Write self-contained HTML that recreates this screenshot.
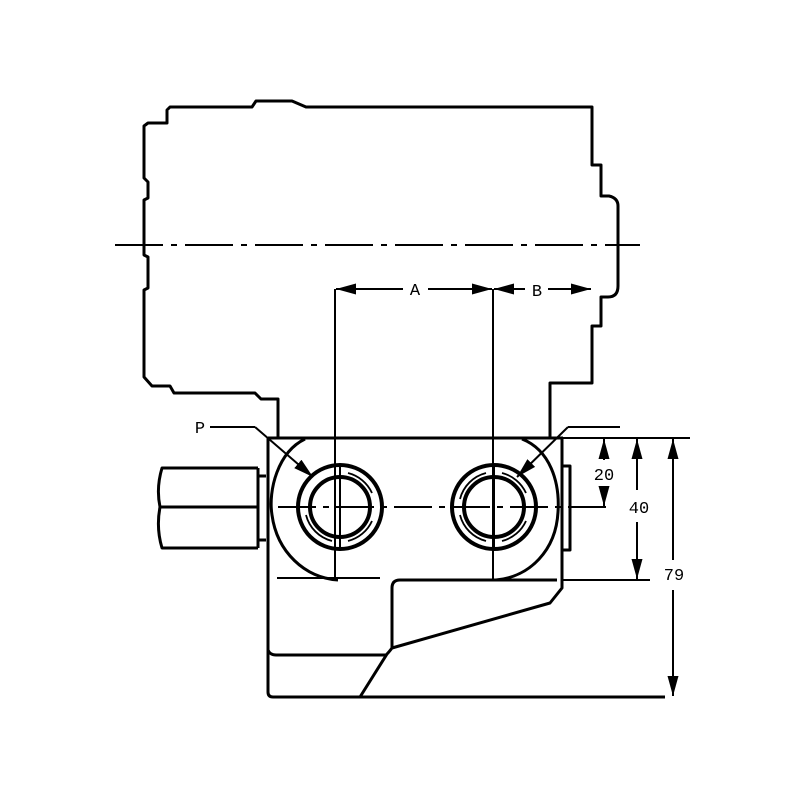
<!DOCTYPE html>
<html><head><meta charset="utf-8"><style>html,body{margin:0;background:#fff}svg{display:block}</style></head>
<body>
<svg width="800" height="800" viewBox="0 0 800 800" xmlns="http://www.w3.org/2000/svg">
<defs>
<marker id="ar2" viewBox="0 0 20 12" refX="20" refY="6" markerWidth="20" markerHeight="12" markerUnits="userSpaceOnUse" orient="auto-start-reverse"><path d="M0,0.5 L20,6 L0,11.5z" fill="#000"/></marker>
</defs>
<g fill="none" stroke="#000" stroke-width="3" stroke-linejoin="round">
<path d="M278,437 L278,399 L261,399 L255,393 L174,393 L170,386 L152,386 L144,377 L144,290 L148,288 L148,257 L144,255 L144,200 L148,198 L148,182 L144,178 L144,126 L148,123 L167,123 L167,110 L170,107 L252,107 L256,101 L292,101 L306,107 L592,107 L592,165 L601,165 L601,196 L609,196 Q618,198 618,206 L618,286 Q618,297 608,297 L601,297 L601,326 L592,326 L592,383 L550,383 L550,437"/>
<path d="M268,438 L563,438 M268,438 L268,692 Q268,697 273,697 L665,697"/>
<path d="M562,438 L562,588 L550,603 L392,648 Q389,652 387,654 L360,697"/>
<path d="M268,650 Q270,655 276,655 L387,655"/>
<path d="M557,580 L400,580 Q392,580 392,588 L392,648"/>
<path d="M305,439 C278,452 268,490 272,515 C277,552 305,578 338,580"/>
<path d="M522,439 C550,450 560,482 558,512 C556,550 530,577 496,580 L400,580"/>
<circle cx="340" cy="507" r="42" stroke-width="4"/><circle cx="340" cy="507" r="30" stroke-width="4"/>
<circle cx="494" cy="507" r="42" stroke-width="4"/><circle cx="494" cy="507" r="30" stroke-width="4"/>
<path d="M258,468 L162,468 Q156,488 160,507 Q156,528 162,548 L258,548 M160,507 L258,507"/>
<path d="M258,476 L266,476 M258,540 L266,540 M258,468 L258,548"/>
<path d="M562,466 L570,466 L570,550 L562,550"/>
</g>
<g fill="none" stroke="#000" stroke-width="1.8">
<path d="M348,473 A36,36 0 0 1 372,493 M372,521 A36,36 0 0 1 348,541 M332,541 A36,36 0 0 1 306,515"/>
<path d="M502,473 A36,36 0 0 1 526,493 M526,521 A36,36 0 0 1 502,541 M486,541 A36,36 0 0 1 460,515 M460,499 A36,36 0 0 1 486,473"/>
</g>
<g fill="none" stroke="#000" stroke-width="2">
<path d="M115,245 L640,245" stroke-dasharray="48,8,6,8"/>
<path d="M278,507 L612,507" stroke-dasharray="38,7,6,7"/>
<path d="M335,289 L335,580 M493,289 L493,580 M340,465 L340,549 M494,465 L494,549"/>
<path d="M277,578 L380,578 M563,580 L650,580 M563,438 L690,438"/>
<line x1="403" y1="289" x2="336" y2="289" marker-end="url(#ar2)"/>
<line x1="428" y1="289" x2="492" y2="289" marker-end="url(#ar2)"/>
<line x1="525" y1="289" x2="494" y2="289" marker-end="url(#ar2)"/>
<line x1="548" y1="289" x2="591" y2="289" marker-end="url(#ar2)"/>
<line x1="604" y1="460" x2="604" y2="439" marker-end="url(#ar2)"/>
<line x1="604" y1="488" x2="604" y2="506" marker-end="url(#ar2)"/>
<line x1="637" y1="490" x2="637" y2="439" marker-end="url(#ar2)"/>
<line x1="637" y1="522" x2="637" y2="579" marker-end="url(#ar2)"/>
<line x1="673" y1="560" x2="673" y2="439" marker-end="url(#ar2)"/>
<line x1="673" y1="590" x2="673" y2="696" marker-end="url(#ar2)"/>
<path d="M210,427 L255,427"/>
<line x1="255" y1="427" x2="313" y2="477" marker-end="url(#ar2)"/>
<path d="M620,427 L568,427"/>
<line x1="568" y1="427" x2="517" y2="477" marker-end="url(#ar2)"/>
</g>
<g font-family="Liberation Mono, monospace" font-size="17" fill="#000" text-anchor="middle">
<text x="415" y="295">A</text><text x="537" y="296">B</text>
<text x="200" y="433">P</text>
<text x="604" y="480">20</text><text x="639" y="513">40</text><text x="674" y="580">79</text>
</g>
</svg>
</body></html>
